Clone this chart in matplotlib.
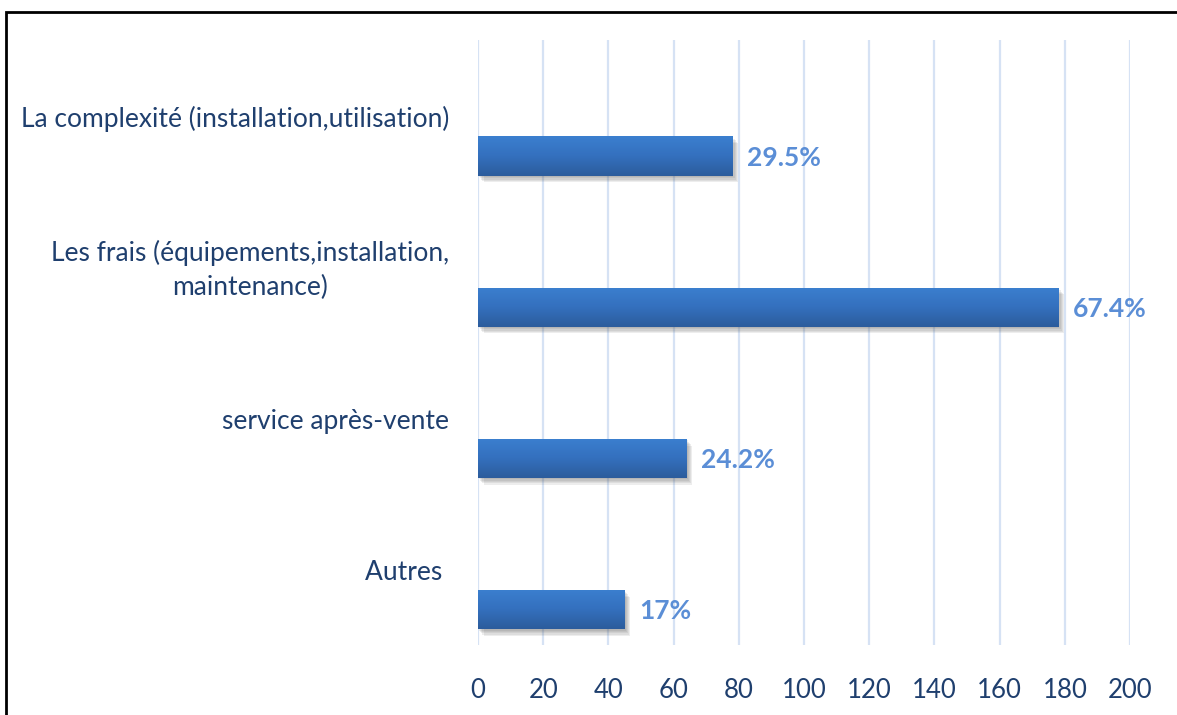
import numpy as np
import matplotlib.pyplot as plt
from matplotlib import patheffects as pe
from matplotlib.patches import Rectangle
from matplotlib.colors import LinearSegmentedColormap

# survey answers (n = 264), top to bottom
categories = ['La complexité (installation,utilisation)',
              'Les frais (équipements,installation,\nmaintenance)',
              'service après-vente',
              'Autres ']
counts = [78, 178, 64, 45]
labels = ['29.5%', '67.4%', '24.2%', '17%']
xticks = [0, 20, 40, 60, 80, 100, 120, 140, 160, 180, 200]

W, H = 1177, 715
dark = '#1F3F6E'
light = '#5B8ED6'
plt.rcParams['font.family'] = ['Lato', 'DejaVu Sans']

fig = plt.figure(figsize=(W / 100, H / 100), dpi=100)
ax = fig.add_axes([478 / W, 1 - 645 / H, (1130 - 478) / W, (645 - 40) / H])

# soft drop shadow: a few faint offset copies
shadow = [pe.SimplePatchShadow(offset=(o, -o * 1.2), shadow_rgbFace='#555555', alpha=0.10)
          for o in (0.8, 1.6, 2.4, 3.2, 4.0)]

ypos = np.arange(len(categories)) + 0.767
bars = ax.barh(ypos, counts, height=0.258, color='#3470BE', zorder=3,
               path_effects=shadow + [pe.Normal()])

# vertical gradient on each bar
grad = np.linspace(0, 1, 64).reshape(-1, 1)
cmap = LinearSegmentedColormap.from_list('barfill', ['#3B7FCF', '#3470BE', '#2C5C9C'])
for b in bars:
    x0, y0 = b.get_x(), b.get_y()
    im = ax.imshow(grad, cmap=cmap, aspect='auto', zorder=4,
                   extent=[x0, x0 + b.get_width(), y0 + b.get_height(), y0])
    im.set_clip_path(b)

for y, c, lab in zip(ypos, counts, labels):
    ax.text(c + 4.5, y + 0.01, lab, color=light, fontsize=19, fontweight='bold',
            va='center', ha='left', zorder=5)

for i, cat in enumerate(categories):
    ax.text(-8.8, i + 0.52, cat, color=dark, fontsize=19, ha='right', va='center',
            multialignment='center', linespacing=1.4)

ax.set_xlim(0, 200)
ax.set_ylim(4, 0)
ax.set_xticks(xticks)
ax.set_yticks([])
ax.grid(axis='x', color='#D6E2F4', linewidth=1.6, zorder=0)
ax.set_axisbelow(True)
for s in ax.spines.values():
    s.set_visible(False)
ax.tick_params(axis='x', length=0, pad=24, labelsize=18.5, labelcolor=dark)

# outer frame, open on the right and bottom
fig.patches.append(Rectangle((6 / W, -0.1), 1.2, 1 - 12 / H + 0.1, transform=fig.transFigure,
                             fill=False, edgecolor='black', linewidth=2))

fig.savefig('out.png', dpi=100)
